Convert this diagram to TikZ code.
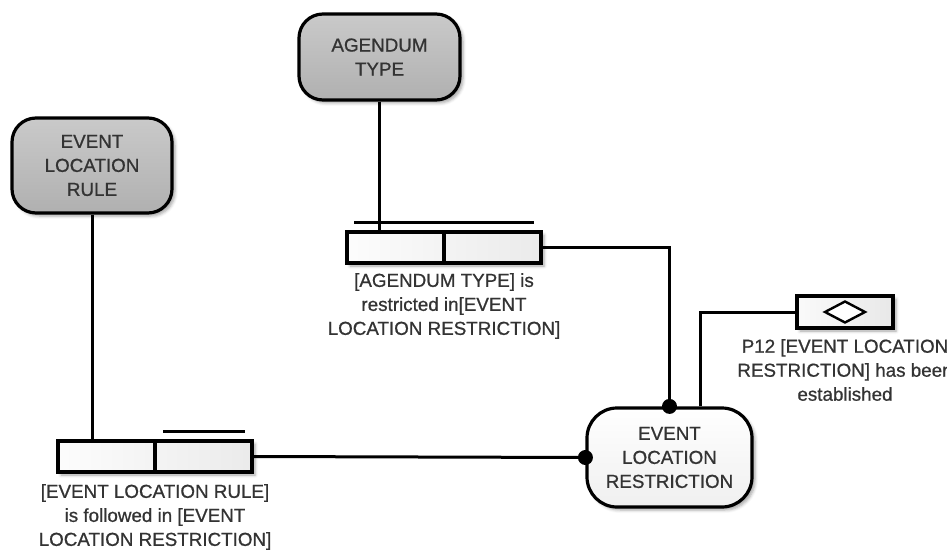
\documentclass[tikz,border=0pt]{standalone}
\usepackage{fontspec}
\setmainfont{Liberation Sans}
\newfontfamily\labelfont{Liberation Sans}[FakeBold=0.8]
\usetikzlibrary{shapes.geometric,shadows.blur}

\tikzset{
  base/.style={font=\labelfont\fontsize{18.8}{24}\selectfont, text=black!80},
  softshadow/.style={blur shadow={shadow xshift=3pt, shadow yshift=-3pt,
      shadow blur radius=3pt, shadow opacity=35}},
  entity/.style={base, draw=black, line width=3.2pt, rounded corners=24pt,
      top color=black!21, bottom color=black!31, align=center, softshadow},
  entitylight/.style={entity, top color=white, bottom color=black!6},
  relbox/.style={draw=black, line width=3.2pt, left color=black!1, right color=black!8,
      minimum width=194pt, minimum height=31pt, inner sep=0pt, softshadow},
  eventbox/.style={draw=black, line width=3.2pt, left color=black!2, right color=black!9,
      minimum width=96pt, minimum height=32pt, inner sep=0pt, softshadow},
  gate/.style={diamond, draw=black, line width=2.4pt, fill=white, inner sep=0pt,
      minimum width=41pt, minimum height=22pt},
  lbl/.style={base, align=center},
  link/.style={draw=black, line width=3pt},
  bar/.style={draw=black, line width=2.6pt},
  dot/.style={fill=black}
}

\begin{document}
\begin{tikzpicture}[x=1pt, y=-1pt]
  \useasboundingbox (0,0) rectangle (947,556);
  \clip (0,0) rectangle (947,556);

  % entities
  \node[entity, minimum width=161pt, minimum height=86pt] (agt) at (379.5,57) {AGENDUM\\TYPE};
  \node[entity, minimum width=160pt, minimum height=95pt] (rule) at (92,165.5) {EVENT\\LOCATION\\RULE};
  \node[entitylight, rounded corners=30pt, minimum width=165pt, minimum height=99pt] (res) at (669.5,457.5)
    {EVENT\\LOCATION\\RESTRICTION};

  % relationship boxes
  \node[relbox] (rel1) at (444,247.5) {};
  \draw[line width=3.2pt] (rel1.north) -- (rel1.south);
  \draw[bar] ([xshift=9pt, yshift=8pt]rel1.north west) -- ([xshift=-9pt, yshift=8pt]rel1.north east);

  \node[relbox] (rel2) at (155,456.5) {};
  \draw[line width=3.2pt] (rel2.north) -- (rel2.south);
  \draw[bar] ([xshift=8pt, yshift=8pt]rel2.north) -- ([xshift=-9pt, yshift=8pt]rel2.north east);

  % event box
  \node[eventbox] (p12) at (845,312) {};
  \node[gate] (gate) at (p12.center) {};

  % labels
  \node[lbl] (l1) at (444,306) {[AGENDUM TYPE] is\\restricted in[EVENT\\LOCATION RESTRICTION]};
  \node[lbl] (l2) at (155,517) {[EVENT LOCATION RULE]\\is followed in [EVENT\\LOCATION RESTRICTION]};
  \node[lbl] (l3) at (845,370) {P12 [EVENT LOCATION\\RESTRICTION] has been\\established};

  % connectors
  \draw[link] (agt.south) -- (agt.south |- rel1.north);
  \draw[link] (rel1.east) -| (res.north);
  \fill[dot] (res.north) circle (7.5pt);

  \draw[link] (rule.south) -- (rule.south |- rel2.north);
  \draw[link] (rel2.east) -- (res.west);
  \fill[dot] (res.west) circle (7.5pt);

  \coordinate (tap) at ([xshift=31pt]res.north);
  \draw[link] (tap) |- (p12.west);
\end{tikzpicture}
\end{document}
